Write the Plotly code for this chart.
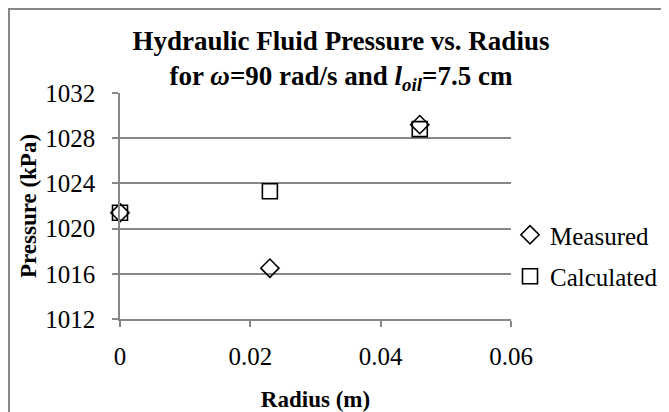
import plotly.graph_objects as go

radius = [0.0, 0.023, 0.046]
measured = [1021.4, 1016.5, 1029.2]
calculated = [1021.4, 1023.3, 1028.8]
x_ticks = [0, 0.02, 0.04, 0.06]
x_tick_labels = ["0", "0.02", "0.04", "0.06"]
y_ticks = [1012, 1016, 1020, 1024, 1028, 1032]

# page has an 8px body margin, so figure pixels = page pixels - 8
OFF = 8
W, H = 669 - OFF, 412 - OFF
L, R, T, B = 120 - OFF, 511 - OFF, 93 - OFF, 319 - OFF
pw, ph = R - L, B - T

FONT = "Liberation Serif, Times New Roman, serif"
GRID = "#878787"

fig = go.Figure()
fig.add_trace(go.Scatter(
    x=radius, y=measured, mode="markers", name="Measured", legendgroup="m",
    cliponaxis=False,
    marker=dict(symbol="diamond-open", size=14, color="black", line=dict(width=1.6, color="black")),
))
fig.add_trace(go.Scatter(
    x=radius, y=calculated, mode="markers", name="Calculated", legendgroup="c",
    cliponaxis=False,
    marker=dict(symbol="square-open", size=15, color="black", line=dict(width=1.6, color="black")),
))

def px_x(p):
    return (p - OFF - L) / pw

def px_y(p):
    return (B - (p - OFF)) / ph

fig.add_shape(type="rect", xref="paper", yref="paper",
              x0=px_x(9), x1=px_x(720), y0=px_y(9), y1=px_y(460),
              line=dict(color=GRID, width=2), fillcolor="rgba(0,0,0,0)", layer="below")

fig.update_layout(
    width=W, height=H,
    margin=dict(l=L, r=W - R, t=T, b=H - B, pad=0, autoexpand=False),
    paper_bgcolor="white", plot_bgcolor="white",
    font=dict(family=FONT, size=25, color="black"),
    title=dict(
        text="<b>Hydraulic Fluid Pressure vs. Radius<br>for <i>ω</i>=90 rad/s and <i>l</i><sub><i>oil</i></sub>=7.5 cm</b>",
        x=(341 - OFF) / W, xanchor="center", y=1 - 42 / H, yanchor="middle",
        xref="container", yref="container",
        font=dict(family=FONT, size=27, color="black"),
    ),
    xaxis=dict(
        range=[0, 0.06], tickvals=x_ticks, ticktext=x_tick_labels,
        showgrid=False, zeroline=False, showline=True, linecolor=GRID, linewidth=1.5,
        ticks="outside", ticklen=6, tickcolor=GRID, tickwidth=1.5,
        ticklabelstandoff=8, automargin=False,
        tickfont=dict(family=FONT, size=25),
        title=dict(text="<b>Radius (m)</b>", font=dict(family=FONT, size=23), standoff=22),
    ),
    yaxis=dict(
        range=[1012, 1032], tickvals=y_ticks,
        showgrid=True, gridcolor=GRID, gridwidth=1.5, zeroline=False,
        showline=True, linecolor=GRID, linewidth=1.5,
        ticks="outside", ticklen=6, tickcolor=GRID, tickwidth=1.5,
        ticklabelstandoff=12, automargin=False,
        tickfont=dict(family=FONT, size=25),
        title=dict(text="<b>Pressure (kPa)</b>", font=dict(family=FONT, size=23), standoff=2),
    ),
    showlegend=True,
    legend=dict(
        x=px_x(510), xanchor="left", y=px_y(212), yanchor="top",
        font=dict(family=FONT, size=25), tracegroupgap=6,
        bgcolor="rgba(0,0,0,0)", itemwidth=30,
    ),
)

fig.write_html("out.html")
